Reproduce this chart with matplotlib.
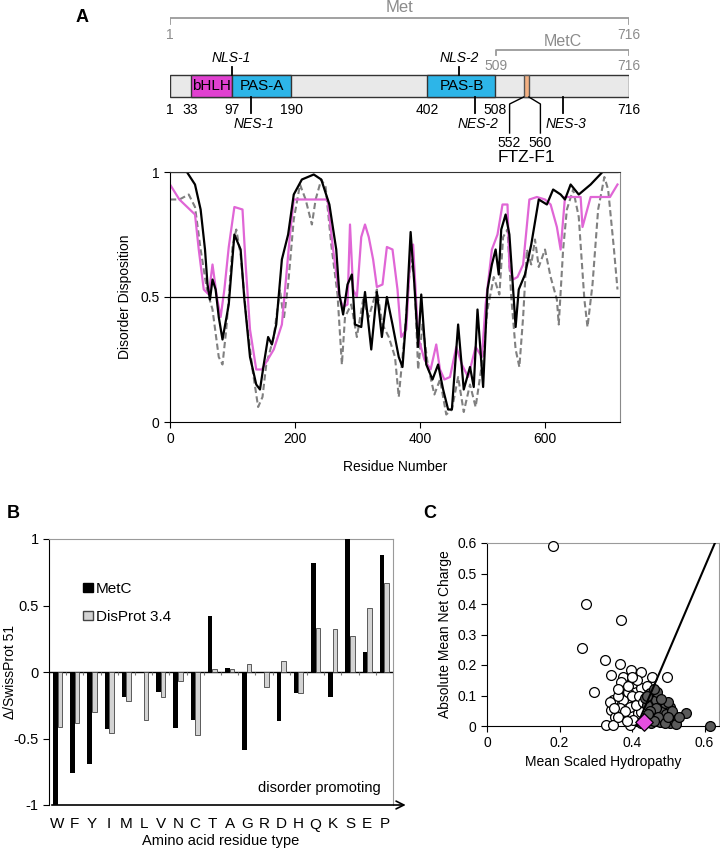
import numpy as np
import matplotlib
matplotlib.use('Agg')
import matplotlib.pyplot as plt
from matplotlib.patches import Rectangle, Patch

plt.rcParams['font.family'] = ['Liberation Sans', 'DejaVu Sans']
plt.rcParams['axes.unicode_minus'] = False

# ---- panel A: domain map of Met ----
met_length = 716
metc_start = 509
domain_names = ['bHLH', 'PAS-A', 'PAS-B']
domain_start = [33, 97, 402]
domain_end = [97, 190, 508]
domain_colors = ['#E040D0', '#2DB5E8', '#2DB5E8']
ftz_start, ftz_end = 552, 560
boundary_labels = [1, 33, 97, 190, 402, 508, 716]
nls_names = ['NLS-1', 'NLS-2']
nls_pos = [97, 451]
nes_names = ['NES-1', 'NES-2', 'NES-3']
nes_pos = [127, 476, 613]

# ---- panel A: disorder predictions (residue, score) ----
black_res = [0, 27, 40, 49, 56, 60, 64, 68, 73, 78, 84, 94, 103, 113, 119, 128, 138, 144, 150, 157,
             163, 170, 179, 189, 198, 211, 230, 242, 255, 266, 271, 277, 284, 291, 296, 306, 312, 322, 331, 339,
             347, 356, 366, 372, 378, 385, 391, 397, 402, 410, 420, 429, 437, 445, 451, 461, 470, 480, 486, 492,
             501, 508, 515, 521, 526, 530, 537, 543, 549, 553, 558, 568, 578, 590, 603, 613, 625, 632, 641, 654,
             673, 692, 716]
black_val = [1.0, 1.0, 0.95, 0.85, 0.69, 0.55, 0.49, 0.57, 0.53, 0.42, 0.33, 0.47, 0.75, 0.69, 0.49, 0.26, 0.15, 0.13, 0.23, 0.34,
             0.31, 0.39, 0.65, 0.75, 0.91, 0.97, 0.99, 0.97, 0.87, 0.69, 0.51, 0.43, 0.55, 0.59, 0.39, 0.38, 0.52, 0.29, 0.52, 0.34,
             0.50, 0.39, 0.26, 0.22, 0.42, 0.76, 0.55, 0.30, 0.51, 0.23, 0.17, 0.23, 0.13, 0.05, 0.05, 0.39, 0.13, 0.22, 0.14, 0.45,
             0.14, 0.53, 0.63, 0.69, 0.59, 0.77, 0.83, 0.75, 0.53, 0.38, 0.53, 0.59, 0.71, 0.89, 0.87, 0.93, 0.91, 0.89, 0.95, 0.91,
             0.95, 1.0, 1.0]

pink_res = [0, 15, 40, 46, 54, 62, 68, 75, 81, 87, 94, 103, 116, 121, 128, 138, 147, 166, 179, 192,
            198, 217, 242, 252, 261, 271, 277, 284, 288, 293, 299, 306, 312, 318, 325, 331, 340, 347, 356, 364,
            370, 378, 385, 389, 397, 407, 417, 426, 432, 439, 448, 458, 467, 477, 489, 499, 505, 515, 524, 532,
            540, 543, 549, 556, 565, 575, 587, 600, 609, 619, 625, 632, 647, 657, 660, 673, 704, 716]
pink_val = [0.95, 0.89, 0.83, 0.69, 0.53, 0.51, 0.63, 0.50, 0.42, 0.53, 0.70, 0.86, 0.85, 0.63, 0.37, 0.21, 0.21, 0.29, 0.39, 0.75,
            0.89, 0.89, 0.89, 0.89, 0.69, 0.50, 0.46, 0.47, 0.79, 0.53, 0.50, 0.74, 0.79, 0.74, 0.65, 0.54, 0.55, 0.70, 0.69, 0.53,
            0.34, 0.37, 0.69, 0.71, 0.34, 0.25, 0.21, 0.31, 0.21, 0.17, 0.18, 0.30, 0.23, 0.18, 0.30, 0.26, 0.47, 0.69, 0.75, 0.87,
            0.87, 0.62, 0.57, 0.58, 0.63, 0.89, 0.90, 0.89, 0.87, 0.78, 0.69, 0.90, 0.90, 0.90, 0.78, 0.90, 0.90, 0.95]

grey_res = [0, 15, 30, 40, 49, 59, 68, 78, 84, 90, 100, 106, 113, 122, 132, 141, 148, 154, 166, 176,
            182, 189, 198, 208, 217, 227, 233, 242, 249, 258, 268, 275, 280, 290, 299, 309, 318, 331, 340, 350,
            360, 366, 375, 385, 391, 397, 404, 413, 423, 432, 442, 451, 461, 470, 480, 489, 499, 508, 518, 527,
            533, 540, 546, 553, 559, 565, 571, 578, 584, 590, 600, 609, 619, 622, 629, 635, 645, 654, 663, 668,
            676, 685, 695, 701, 710, 716]
grey_val = [0.89, 0.89, 0.91, 0.86, 0.69, 0.53, 0.45, 0.26, 0.23, 0.37, 0.70, 0.77, 0.67, 0.42, 0.21, 0.06, 0.10, 0.23, 0.34, 0.53,
            0.41, 0.55, 0.81, 0.95, 0.89, 0.79, 0.89, 0.97, 0.94, 0.71, 0.51, 0.23, 0.42, 0.47, 0.34, 0.49, 0.42, 0.53, 0.39, 0.34,
            0.26, 0.10, 0.34, 0.65, 0.58, 0.21, 0.39, 0.22, 0.11, 0.17, 0.03, 0.05, 0.18, 0.04, 0.15, 0.06, 0.23, 0.45, 0.58, 0.51,
            0.74, 0.77, 0.50, 0.29, 0.22, 0.42, 0.69, 0.63, 0.73, 0.62, 0.69, 0.58, 0.49, 0.39, 0.69, 0.85, 0.93, 0.82, 0.49, 0.38,
            0.55, 0.85, 0.98, 0.93, 0.70, 0.53]

# ---- panel B: composition profile ----
amino_acids = list('WFYIMLVNCTAGRDHQKSEP')
metc_comp = [-1.0, -0.76, -0.69, -0.43, -0.19, 0.0, -0.15, -0.42, -0.36, 0.42,
             0.03, -0.59, -0.01, -0.37, -0.16, 0.82, -0.19, 1.0, 0.15, 0.88]
disprot_comp = [-0.41, -0.38, -0.30, -0.46, -0.22, -0.36, -0.19, -0.07, -0.47, 0.02,
                0.02, 0.06, -0.11, 0.08, -0.16, 0.33, 0.32, 0.27, 0.48, 0.67]

# ---- panel C: charge-hydropathy plot ----
disordered_h = [0.181, 0.272, 0.369, 0.262, 0.325, 0.366, 0.343, 0.295, 0.398, 0.426, 0.455, 0.496,
                0.375, 0.371, 0.403, 0.426, 0.380, 0.348, 0.375, 0.407, 0.343, 0.366, 0.394, 0.352,
                0.375, 0.416, 0.329, 0.348, 0.394, 0.426, 0.440, 0.403, 0.340, 0.360, 0.390, 0.415,
                0.360, 0.400, 0.410, 0.380, 0.420, 0.362, 0.390, 0.350, 0.400, 0.440, 0.430, 0.385]
disordered_r = [0.591, 0.400, 0.348, 0.255, 0.215, 0.203, 0.167, 0.111, 0.184, 0.176, 0.162, 0.162,
                0.162, 0.145, 0.140, 0.124, 0.118, 0.085, 0.085, 0.091, 0.052, 0.058, 0.063, 0.030,
                0.036, 0.042, 0.003, 0.003, 0.003, 0.047, 0.020, 0.020, 0.080, 0.100, 0.110, 0.150,
                0.120, 0.100, 0.070, 0.050, 0.100, 0.030, 0.130, 0.060, 0.160, 0.130, 0.080, 0.015]
ordered_h = [0.614, 0.548, 0.449, 0.467, 0.481, 0.504, 0.490, 0.513, 0.504, 0.476, 0.453, 0.426,
             0.440, 0.458, 0.486, 0.522, 0.495, 0.467, 0.435, 0.500, 0.470, 0.510, 0.442, 0.506,
             0.460, 0.450, 0.472, 0.490, 0.520, 0.480, 0.500, 0.462, 0.445, 0.530]
ordered_r = [0.000, 0.044, 0.107, 0.085, 0.052, 0.063, 0.075, 0.036, 0.014, 0.014, 0.009, 0.009,
             0.069, 0.036, 0.025, 0.020, 0.040, 0.060, 0.091, 0.080, 0.110, 0.050, 0.100, 0.010,
             0.120, 0.050, 0.030, 0.010, 0.005, 0.090, 0.030, 0.015, 0.040, 0.030]
metc_h, metc_r = 0.432, 0.012
boundary_slope, boundary_offset = 2.785, 1.151

W, H = 720, 850
fig = plt.figure(figsize=(W / 100, H / 100), dpi=100)


def px_axes(x0, y0, x1, y1):
    return fig.add_axes([x0 / W, 1 - y1 / H, (x1 - x0) / W, (y1 - y0) / H])


grey_txt = '#8C8C8C'

# ---------------- domain map ----------------
ax_map = px_axes(170, 0, 629, 210)
ax_map.set_xlim(1, met_length)
ax_map.set_ylim(210, 0)
ax_map.axis('off')

ax_map.plot([1, 1, met_length, met_length], [24, 18, 18, 24], color='#9A9A9A', lw=1.3)
ax_map.text((1 + met_length) / 2, 7, 'Met', color=grey_txt, fontsize=12, ha='center', va='center')
ax_map.text(1, 35, '1', color=grey_txt, fontsize=10, ha='center', va='center')
ax_map.text(met_length, 35, str(met_length), color=grey_txt, fontsize=10, ha='center', va='center')
ax_map.plot([metc_start, metc_start, met_length, met_length], [55, 50, 50, 55], color='#9A9A9A', lw=1.3)
ax_map.text((metc_start + met_length) / 2, 41, 'MetC', color=grey_txt, fontsize=11.5, ha='center', va='center')
ax_map.text(metc_start, 66, str(metc_start), color=grey_txt, fontsize=10, ha='center', va='center')
ax_map.text(met_length, 66, str(met_length), color=grey_txt, fontsize=10, ha='center', va='center')

ax_map.add_patch(Rectangle((1, 75), met_length - 1, 22, facecolor='#E9E9E9', edgecolor='#333333', lw=1))
for name, s, e, c in zip(domain_names, domain_start, domain_end, domain_colors):
    ax_map.add_patch(Rectangle((s, 75), e - s, 22, facecolor=c, edgecolor='#333333', lw=1))
    ax_map.text((s + e) / 2, 86.5, name, fontsize=11, ha='center', va='center')
ax_map.add_patch(Rectangle((ftz_start, 75), ftz_end - ftz_start, 22, facecolor='#F4B183',
                           edgecolor='#555555', lw=1))

for b in boundary_labels:
    ax_map.text(b, 110, str(b), fontsize=10, ha='center', va='center')
for name, p in zip(nls_names, nls_pos):
    ax_map.plot([p, p], [67, 75], color='black', lw=1.3)
    ax_map.text(p, 58, name, fontsize=10, style='italic', ha='center', va='center')
for name, p in zip(nes_names, nes_pos):
    ax_map.plot([p, p], [97, 113], color='black', lw=1.3)
    ax_map.text(p + 5, 124, name, fontsize=10, style='italic', ha='center', va='center')

ax_map.plot([ftz_start, ftz_start - 22, ftz_start - 22], [97, 104, 133], color='black', lw=1)
ax_map.plot([ftz_end, ftz_end + 18, ftz_end + 18], [97, 104, 133], color='black', lw=1)
ax_map.text(ftz_start - 22, 143, str(ftz_start), fontsize=10, ha='center', va='center')
ax_map.text(ftz_end + 18, 143, str(ftz_end), fontsize=10, ha='center', va='center')
ax_map.text((ftz_start + ftz_end) / 2, 157, 'FTZ-F1', fontsize=12.5, ha='center', va='center')

# ---------------- disorder plot ----------------
ax_a = px_axes(170, 172, 620, 422)
ax_a.plot(grey_res, grey_val, color='#808080', lw=1.5, dashes=(3, 1.6))
ax_a.plot(pink_res, pink_val, color='#E066D6', lw=1.6)
ax_a.plot(black_res, black_val, color='black', lw=1.6)
ax_a.axhline(0.5, color='black', lw=0.9)
ax_a.set_xlim(0, 720)
ax_a.set_ylim(0, 1)
ax_a.set_xticks([0, 200, 400, 600])
ax_a.set_yticks([0, 0.5, 1])
ax_a.set_yticklabels(['0', '0.5', '1'])
ax_a.tick_params(labelsize=10, length=4)
ax_a.set_xlabel('Residue Number', fontsize=10, labelpad=10)
ax_a.set_ylabel('Disorder Disposition', fontsize=10, labelpad=6)
ax_a.spines['right'].set_color('#8A8A8A')
ax_a.spines['top'].set_color('#333333')

# ---------------- panel B ----------------
ax_b = px_axes(49, 539, 393, 805)
x = np.arange(len(amino_acids))
bw = 0.27
ax_b.bar(x - bw / 2, metc_comp, width=bw, color='black', label='MetC', zorder=3)
ax_b.bar(x + bw / 2, disprot_comp, width=bw, color='#D3D3D3', edgecolor='#444444', lw=0.6,
         label='DisProt 3.4', zorder=3)
ax_b.axhline(0, color='black', lw=1, zorder=2)
ax_b.vlines(np.arange(len(amino_acids) + 1) - 0.5, -0.025, 0, color='#777777', lw=0.8)
ax_b.set_xlim(-0.5, len(amino_acids) - 0.5)
ax_b.set_ylim(-1, 1)
ax_b.set_yticks([-1, -0.5, 0, 0.5, 1])
ax_b.set_yticklabels(['-1', '-0.5', '0', '0.5', '1'])
ax_b.set_xticks(x)
ax_b.set_xticklabels(amino_acids)
ax_b.tick_params(axis='x', length=0, pad=9, labelsize=11)
ax_b.tick_params(axis='y', labelsize=10.5, length=4)
ax_b.spines['bottom'].set_visible(False)
ax_b.spines['top'].set_color('#9A9A9A')
ax_b.spines['right'].set_color('#9A9A9A')
ax_b.annotate('', xy=(1.045, 0), xytext=(0, 0), xycoords='axes fraction',
              arrowprops=dict(arrowstyle='->', color='black', lw=1.2, mutation_scale=14))
ax_b.set_xlabel('Amino acid residue type', fontsize=10.5, labelpad=2)
ax_b.set_ylabel('\u0394/SwissProt 51', fontsize=10)
ax_b.yaxis.set_label_coords(-0.093, 0.5)
ax_b.text(0.965, 0.065, 'disorder promoting', transform=ax_b.transAxes, fontsize=10.5,
          ha='right', va='center')
handles = [Patch(facecolor='black', edgecolor='black', label='MetC'),
           Patch(facecolor='#D3D3D3', edgecolor='#444444', label='DisProt 3.4')]
ax_b.legend(handles=handles, loc='upper left', bbox_to_anchor=(0.06, 0.89), frameon=False,
            handlelength=0.6, handleheight=0.6, handletextpad=0.2, labelspacing=0.9, fontsize=11)

# ---------------- panel C ----------------
ax_c = px_axes(487, 543, 719, 726)
ax_c.scatter(disordered_h, disordered_r, s=50, facecolor='white', edgecolor='black', lw=0.9,
             zorder=3, clip_on=False)
ax_c.scatter(ordered_h, ordered_r, s=50, facecolor='#5A5A5A', edgecolor='black', lw=0.9,
             zorder=4, clip_on=False)
r_line = np.array([0, 0.6])
ax_c.plot((r_line + boundary_offset) / boundary_slope, r_line, color='black', lw=1.5, zorder=5)
ax_c.scatter([metc_h], [metc_r], s=80, marker='D', facecolor='#E64FE0', edgecolor='black',
             lw=0.9, zorder=6, clip_on=False)
ax_c.set_xlim(0, 0.64)
ax_c.set_ylim(0, 0.6)
ax_c.set_xticks([0, 0.2, 0.4, 0.6])
ax_c.set_xticklabels(['0', '0.2', '0.4', '0.6'])
ax_c.set_yticks([0, 0.1, 0.2, 0.3, 0.4, 0.5, 0.6])
ax_c.set_yticklabels(['0', '0.1', '0.2', '0.3', '0.4', '0.5', '0.6'])
ax_c.tick_params(labelsize=10, length=4)
ax_c.spines['top'].set_color('#9A9A9A')
ax_c.spines['right'].set_color('#9A9A9A')
ax_c.set_xlabel('Mean Scaled Hydropathy', fontsize=10, labelpad=3)
ax_c.set_ylabel('Absolute Mean Net Charge', fontsize=10, labelpad=4)

# panel letters
fig.text(82 / W, 1 - 17 / H, 'A', fontsize=13, fontweight='bold', ha='center', va='center')
fig.text(13 / W, 1 - 514 / H, 'B', fontsize=13, fontweight='bold', ha='center', va='center')
fig.text(430 / W, 1 - 514 / H, 'C', fontsize=13, fontweight='bold', ha='center', va='center')

fig.savefig('out.png', dpi=100)
